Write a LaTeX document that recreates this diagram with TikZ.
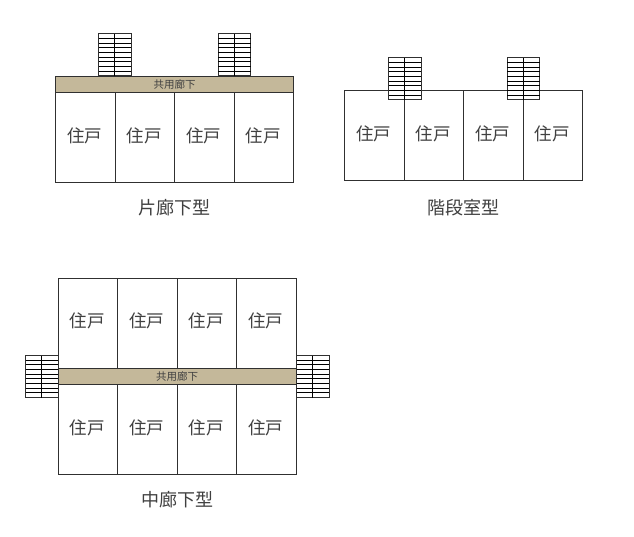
\documentclass[tikz,border=0pt]{standalone}
\usepackage{fontspec}
\setmainfont{Noto Sans CJK JP}
\usetikzlibrary{calc}
\definecolor{corr}{HTML}{C4B89A}
\definecolor{ink}{HTML}{303030}
\definecolor{txt}{HTML}{404040}
\tikzset{
  room/.style={draw=ink,line width=1pt,minimum width=59.5pt,minimum height=90pt,inner sep=0pt,outer sep=0pt,text=txt,font=\fontsize{17.5}{17.5}\selectfont},
  corridor/.style={draw=ink,line width=1pt,fill=corr,minimum width=238pt,minimum height=16.5pt,inner sep=0pt,outer sep=0pt,text=txt,font=\fontsize{10.5}{11}\selectfont},
  title/.style={inner sep=0pt,text=txt,font=\fontsize{18}{18}\selectfont},
  stairbox/.style={draw=ink,line width=1pt,minimum width=32.5pt,minimum height=42pt,inner sep=0pt,outer sep=0pt},
  tread/.style={draw=black,line width=1pt}
}
\newcommand{\roomlabel}{\raisebox{-4.6pt}[0pt][0pt]{\makebox[0pt]{\hspace{-0.6pt}住戸}}}
% name, left x, top y
\newcommand{\roomrow}[3]{%
  \foreach \i in {1,2,3,4}{
    \pgfmathsetmacro{\cx}{#2+(\i-0.5)*59.5}
    \pgfmathsetmacro{\cy}{#3+45}
    \node[room] (#1\i) at (\cx,\cy) {\roomlabel};
  }}
% name, left x, top y
\newcommand{\stairs}[3]{%
  \pgfmathsetmacro{\sx}{#2+16.25}
  \pgfmathsetmacro{\sy}{#3+21}
  \node[stairbox] (#1) at (\sx,\sy) {};
  \draw[tread] (#1.north) -- (#1.south);
  \foreach \k in {1,...,8}{
    \draw[tread] ($(#1.north west)!\k/9!(#1.south west)$) -- ($(#1.north east)!\k/9!(#1.south east)$);
  }}
\begin{document}
\begin{tikzpicture}[x=1pt,y=-1pt]
\useasboundingbox (0,0) rectangle (634,537);
\fill[white] (0,0) rectangle (634,537);
% 片廊下型
\stairs{sa}{98.5}{34}
\stairs{sb}{218}{34}
\node[corridor] (ca) at (174.5,84.75) {共用廊下};
\roomrow{ra}{55.5}{93}
\node[title] (ta) at (174.5,207.5) {片廊下型};
% 階段室型
\roomrow{rb}{344.5}{90.5}
\stairs{sc}{388.5}{58}
\stairs{sd}{507.2}{58}
\node[title] (tb) at (463.5,207.5) {階段室型};
% 中廊下型
\roomrow{rc}{58}{278}
\node[corridor] (cc) at (177,376.25) {共用廊下};
\roomrow{rd}{58}{384.5}
\stairs{se}{25.5}{355.5}
\stairs{sf}{296.5}{355.5}
\node[title] (tc) at (177,499.5) {中廊下型};
\end{tikzpicture}
\end{document}
